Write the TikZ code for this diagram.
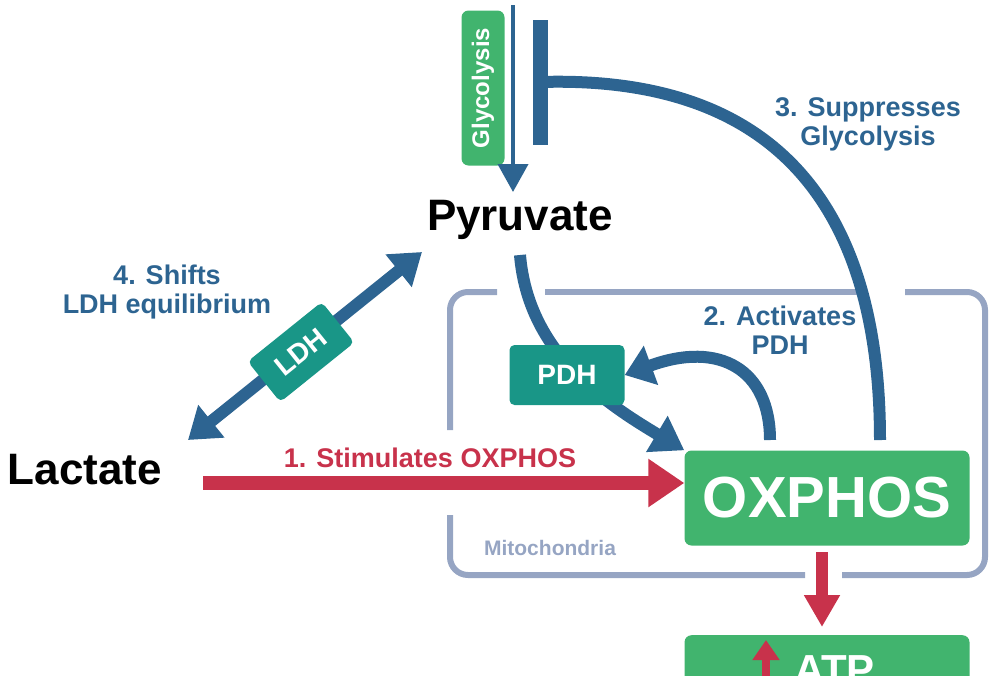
\documentclass[tikz,border=0pt]{standalone}
\usepackage{fontspec}
\setmainfont{Liberation Sans}
\usetikzlibrary{arrows.meta,positioning}
\definecolor{pathblue}{RGB}{45,100,145}
\definecolor{stimred}{RGB}{200,50,75}
\definecolor{boxgreen}{RGB}{65,180,110}
\definecolor{enzteal}{RGB}{25,150,135}
\definecolor{mitogray}{RGB}{150,165,195}
\tikzset{
  metab/.style={font=\fontsize{44}{48}\selectfont\bfseries, text=black},
  enz/.style={fill=enzteal, rounded corners=5pt, text=white, font=\fontsize{28}{30}\selectfont\bfseries},
  gbox/.style={fill=boxgreen, rounded corners=7pt, text=white},
  lbl/.style={font=\fontsize{27}{29}\selectfont\bfseries, align=center},
  flow/.style={pathblue, line width=12pt},
}
\begin{document}
\begin{tikzpicture}[x=1pt,y=-1pt]
  \useasboundingbox (0,0) rectangle (996,675);
  % mitochondria outline
  \begin{scope}[mitogray, line width=6pt, rounded corners=18pt]
    \draw (497,292) -- (450,292) -- (450,430);
    \draw (450,515) -- (450,575) -- (805,575);
    \draw (842,575) -- (985,575) -- (985,292) -- (905,292);
    \draw (545,292) -- (862,292);
  \end{scope}
  \node[text=mitogray, font=\fontsize{21}{23}\selectfont\bfseries] (mito) at (550,548) {Mitochondria};
  % nodes
  \node[metab] (pyr) at (520,220) {Pyruvate};
  \node[metab] (lac) at (85,470) {Lactate};
  \node[gbox, minimum width=43pt, minimum height=155pt] (gly) at (483,88) {};
  \node[rotate=90, text=white, font=\fontsize{24}{26}\selectfont\bfseries] (glytext) at (gly) {Glycolysis};
  \node[gbox, minimum width=285pt, minimum height=95pt, font=\fontsize{58}{62}\selectfont\bfseries] (ox) at (827,498) {OXPHOS};
  \node[gbox, minimum width=285pt, minimum height=70pt, anchor=north, font=\fontsize{42}{46}\selectfont\bfseries] (atp) at (827,635) {\hspace*{15pt}ATP};
  % glycolysis flux and inhibition
  \coordinate (glytop) at (513,5);
  \coordinate (bar) at (540,82);
  \draw[pathblue, line width=4pt, -{Triangle[length=28pt,width=30pt]}] (glytop) -- (513,192);
  \draw[pathblue, line width=15pt] (540,20) -- (540,145);
  \draw[flow] (bar) .. controls (770,75) and (880,200) .. (880,440);
  \node[lbl, text=pathblue] (sup) at (868,124) {3. Suppresses\\Glycolysis};
  % pyruvate to OXPHOS through PDH
  \coordinate (pyrout) at (520,255);
  \draw[flow, -{Triangle[length=32pt,width=40pt]}] (pyrout) .. controls (528,350) and (600,400) .. (ox.north west);
  \node[enz, minimum width=115pt, minimum height=60pt] (pdh) at (567,375) {PDH};
  % activation loop
  \coordinate (actfoot) at (770,440);
  \draw[flow, -{Triangle[length=28pt,width=40pt]}] (actfoot) .. controls (770,370) and (720,340) .. (pdh.east);
  \node[lbl, text=pathblue] (act) at (780,330) {2. Activates\\PDH};
  % lactate
  \draw[stimred, line width=14pt, -{Triangle[length=36pt,width=46pt]}] (203,483) -- (ox.west |- 0,483);
  \node[lbl, text=stimred] (stim) at (430,458) {1. Stimulates OXPHOS};
  \coordinate (ldhA) at (188,440);
  \coordinate (ldhB) at (422,252);
  \draw[pathblue, line width=12pt, {Triangle[length=30pt,width=40pt]}-{Triangle[length=30pt,width=40pt]}] (ldhA) -- (ldhB);
  \node[enz, rotate=38.8, minimum width=95pt, minimum height=52pt] (ldh) at (301,352) {LDH};
  \node[lbl, text=pathblue] (shift) at (167,292) {4. Shifts\\LDH equilibrium};
  % ATP
  \coordinate (atptop) at (822,552);
  \coordinate (atptip) at (822,627);
  \draw[stimred, line width=12pt, -{Triangle[length=32pt,width=34pt]}] (atptop) -- (atptip);
  \draw[stimred, line width=8pt, -{Triangle[length=20pt,width=26pt]}] (766,680) -- (766,640);
\end{tikzpicture}
\end{document}
